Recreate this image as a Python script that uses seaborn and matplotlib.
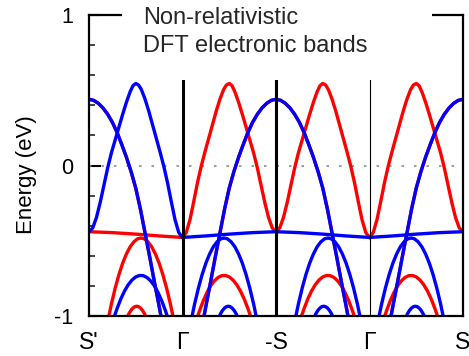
import numpy as np
import pandas as pd
import matplotlib
matplotlib.use("Agg")
import matplotlib.pyplot as plt
from matplotlib.patches import Rectangle
from matplotlib.ticker import MultipleLocator
import seaborn as sns

# ---------------- data ----------------
k_labels = ["S'", "Γ", "-S", "Γ", "S"]
k_label_pos = [0, 1, 2, 3, 4]
y_ticks = [-1, 0, 1]
y_tick_labels = ["-1", "0", "1"]

# Bands along one path segment; t = 0 at the zone edge (S', -S, S), t = 1 at Γ
peak_t = [0.00, 0.04, 0.08, 0.12, 0.16, 0.20, 0.24, 0.28, 0.32, 0.36, 0.40, 0.44, 0.47,
          0.50, 0.53, 0.56, 0.60, 0.64, 0.68, 0.72, 0.76, 0.80, 0.84, 0.88, 0.92, 0.96, 1.00]
peak_E = [-0.440, -0.415, -0.345, -0.245, -0.130, -0.015, 0.085, 0.170, 0.255, 0.340, 0.420,
          0.490, 0.530, 0.545, 0.535, 0.505, 0.440, 0.360, 0.270, 0.180, 0.090, -0.005,
          -0.115, -0.240, -0.360, -0.445, -0.480]

degen_t = [0.00, 0.05, 0.10, 0.15, 0.20, 0.25, 0.30, 0.35, 0.40, 0.45, 0.50, 0.55, 0.60,
           0.65, 0.70, 0.75, 0.78]
degen_E = [0.440, 0.433, 0.413, 0.382, 0.340, 0.287, 0.220, 0.140, 0.055, -0.040, -0.150,
           -0.290, -0.450, -0.610, -0.775, -0.935, -1.035]

flat_t = [0.00, 0.25, 0.50, 0.75, 1.00]
flat_E = [-0.440, -0.446, -0.456, -0.468, -0.478]

p1_t = [0.20, 0.24, 0.28, 0.32, 0.36, 0.40, 0.44, 0.48, 0.52, 0.555, 0.59, 0.63, 0.67,
        0.71, 0.75, 0.79, 0.83, 0.87, 0.91]
p1_E = [-1.037, -0.919, -0.815, -0.725, -0.649, -0.588, -0.540, -0.507, -0.487, -0.482,
        -0.487, -0.507, -0.540, -0.588, -0.649, -0.725, -0.815, -0.919, -1.037]

p2_t = [0.27, 0.30, 0.34, 0.38, 0.42, 0.46, 0.50, 0.54, 0.58, 0.62, 0.66, 0.70, 0.74,
        0.78, 0.82, 0.85]
p2_E = [-1.006, -0.951, -0.887, -0.834, -0.792, -0.761, -0.740, -0.731, -0.732, -0.744,
        -0.767, -0.800, -0.846, -0.902, -0.969, -1.026]

p3_t = [0.41, 0.43, 0.45, 0.47, 0.49, 0.51, 0.53, 0.55, 0.57, 0.59, 0.61]
p3_E = [-1.007, -0.981, -0.961, -0.947, -0.938, -0.935, -0.938, -0.947, -0.961, -0.981,
        -1.007]

# segments: zone-edge position, direction towards Γ, spin of (peak, flat, p1, p2, p3)
segment_edge = [0, 2, 2, 4]
segment_dir = [1, -1, 1, -1]
segment_spins = [
    ("down", "up", "up", "down", "up"),
    ("up", "down", "down", "up", "down"),
    ("up", "down", "down", "up", "down"),
    ("up", "down", "down", "up", "down"),
]

title_lines = ["Non-relativistic", "DFT electronic bands"]
y_label = "Energy (eV)"

# ---------------- build long table ----------------
rows = []
cid = 0
bands = [(peak_t, peak_E), (flat_t, flat_E), (p1_t, p1_E), (p2_t, p2_E), (p3_t, p3_E)]
for edge, d, spins in zip(segment_edge, segment_dir, segment_spins):
    for (bt, be), sp in zip(bands, spins):
        for t, e in zip(bt, be):
            rows.append((edge + d * t, e, sp, cid))
        cid += 1
    for sp in ("up", "down"):
        for t, e in zip(degen_t, degen_E):
            rows.append((edge + d * t, e, sp, cid))
        cid += 1
df = pd.DataFrame(rows, columns=["k", "E", "spin", "curve"])

# ---------------- plot ----------------
sns.set_theme(style="ticks")
plt.rcParams['font.family'] = ['Liberation Sans', 'DejaVu Sans']

fig = plt.figure(figsize=(4.69, 3.56), dpi=100)
ax = fig.add_axes([89 / 469, 40 / 356, 374 / 469, 301 / 356])

ax.axhline(0, color="#8a8a8a", lw=1.2, ls=(0, (1.5, 6)), zorder=1)

colors = {"up": "#ff0000", "down": "#0000ff"}
for sp in ("up", "down"):
    sub = df[df["spin"] == sp]
    sns.lineplot(data=sub, x="k", y="E", units="curve", estimator=None, sort=False,
                 color=colors[sp], lw=2.4, ax=ax, legend=False)

ax.vlines([1, 2], -1, 1, color="black", lw=2.2, zorder=2.6)
ax.vlines([3], -1, 1, color="black", lw=0.8, zorder=2.6)

ax.set_xlim(0, 4)
ax.set_ylim(-1, 1)
ax.set_xticks(k_label_pos)
ax.set_xticklabels(k_labels, fontsize=16.5)
ax.set_yticks(y_ticks)
ax.set_yticklabels(y_tick_labels, fontsize=15.5)
ax.yaxis.set_minor_locator(MultipleLocator(0.2))
ax.tick_params(axis="x", which="both", length=0, pad=11, colors="black")
ax.tick_params(axis="y", which="major", direction="in", length=8.5, width=1.5, pad=11.5,
               left=True, right=False, colors="black")
ax.tick_params(axis="y", which="minor", direction="in", length=4.5, width=1.2,
               left=True, right=False)
ax.set_xlabel("")
ax.set_ylabel(y_label, fontsize=16, color="black")
ax.yaxis.set_label_coords(-0.139, 0.47)
for s in ax.spines.values():
    s.set_visible(True)
    s.set_linewidth(1.6)
    s.set_color("black")

# white box behind the annotation (hides part of the frame)
ax.add_patch(Rectangle((0.088, 0.784), 0.829, 0.3, transform=ax.transAxes,
                       facecolor="white", edgecolor="none", clip_on=False, zorder=3))
fig.text(143 / 469, 1 - 24 / 356, title_lines[0], fontsize=17, va="baseline", ha="left",
         zorder=5)
fig.text(143 / 469, 1 - 52 / 356, title_lines[1], fontsize=17, va="baseline", ha="left",
         zorder=5)

fig.savefig("out.png", dpi=100)
